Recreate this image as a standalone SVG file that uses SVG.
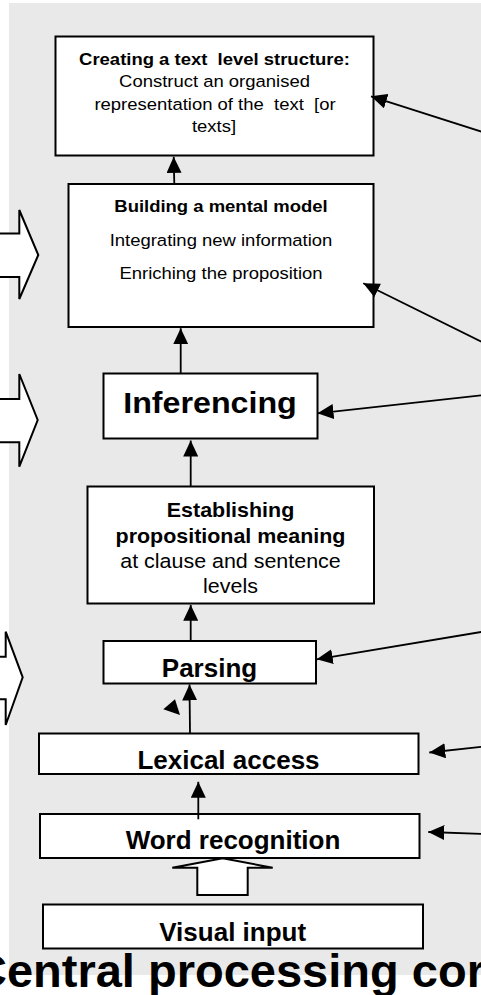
<svg xmlns="http://www.w3.org/2000/svg" width="481" height="995" viewBox="0 0 481 995">
  <style>
    text { font-family: "Liberation Sans", Arial, Helvetica, sans-serif; fill: #000; text-anchor: middle; white-space: pre; }
    .b { font-weight: bold; }
    .box { fill: #fff; stroke: #000; stroke-width: 2; }
    .link { fill: none; stroke: #000; stroke-width: 1.8; marker-end: url(#head); }
    .block { fill: #fff; stroke: #000; stroke-width: 2; stroke-linejoin: miter; }
  </style>
  <defs>
    <marker id="head" viewBox="0 0 16 15" refX="16" refY="7.5" markerWidth="16" markerHeight="15" markerUnits="userSpaceOnUse" orient="auto">
      <path d="M0,0 L16,7.5 L0,15 z" fill="#000"/>
    </marker>
  </defs>

  <!-- panel background -->
  <rect x="9" y="3" width="472" height="972" fill="#e9e9e9"/>

  <!-- incoming block arrows on the left -->
  <g id="in-left">
    <polygon class="block" points="-3,233.5 19.3,233.5 19.3,210 38.3,255 19.3,299 19.3,277 -3,277"/>
    <polygon class="block" points="-3,399 19.3,399 19.3,374 37.7,420 19.3,466.7 19.3,442.3 -3,442.3"/>
    <polygon class="block" points="-3,656.7 5.7,656.7 5.7,631.7 22.7,677.3 5.7,725 5.7,699.3 -3,699.3"/>
  </g>

  <g id="text-structure">
    <rect class="box" x="55.5" y="36.5" width="318" height="119"/>
    <text class="b" font-size="16.8" transform="translate(214.5 64.5) scale(1.1 1)">Creating a text  level structure:</text>
    <text font-size="16.8" transform="translate(214.5 87) scale(1.1 1)">Construct an organised</text>
    <text font-size="16.8" transform="translate(215 109.5) scale(1.1 1)">representation of the  text  [or</text>
    <text font-size="16.8" transform="translate(214 132) scale(1.1 1)">texts]</text>
  </g>

  <g id="mental-model">
    <rect class="box" x="68.5" y="184" width="305" height="143"/>
    <text class="b" font-size="16.8" transform="translate(221 211.5) scale(1.1 1)">Building a mental model</text>
    <text font-size="16.8" transform="translate(221 245.5) scale(1.1 1)">Integrating new information</text>
    <text font-size="16.8" transform="translate(221 278.5) scale(1.1 1)">Enriching the proposition</text>
  </g>

  <g id="inferencing">
    <rect class="box" x="103.5" y="373.5" width="214" height="65"/>
    <text class="b" font-size="29.3" transform="translate(210 413.3) scale(1.1 1)">Inferencing</text>
  </g>

  <g id="propositional-meaning">
    <rect class="box" x="87.5" y="486.5" width="286.5" height="117"/>
    <text class="b" font-size="19.5" transform="translate(230.5 517.3) scale(1.1 1)">Establishing</text>
    <text class="b" font-size="19.5" transform="translate(230.5 543.3) scale(1.1 1)">propositional meaning</text>
    <text font-size="19.5" transform="translate(230.5 568.3) scale(1.1 1)">at clause and sentence</text>
    <text font-size="19.5" transform="translate(230.5 593.3) scale(1.1 1)">levels</text>
  </g>

  <g id="parsing">
    <rect class="box" x="103.5" y="641" width="212.5" height="42.5"/>
    <text class="b" font-size="26" x="209.5" y="676.7">Parsing</text>
  </g>

  <g id="lexical-access">
    <rect class="box" x="39" y="733.5" width="379.5" height="40.5"/>
    <text class="b" font-size="26" x="228.5" y="769.3">Lexical access</text>
  </g>

  <g id="word-recognition">
    <rect class="box" x="40" y="814" width="379.5" height="44"/>
    <text class="b" font-size="26" x="233" y="849.3">Word recognition</text>
  </g>

  <g id="visual-input">
    <rect class="box" x="43" y="904.5" width="380" height="44"/>
    <text class="b" font-size="26" x="232.7" y="940.7">Visual input</text>
  </g>

  <!-- connectors -->
  <g id="connectors">
    <line class="link" x1="174.3" y1="184" x2="173.7" y2="156.8"/>
    <line class="link" x1="180.7" y1="373.5" x2="180.7" y2="328.2"/>
    <line class="link" x1="190.7" y1="486.5" x2="190.7" y2="440.5"/>
    <line class="link" x1="190.7" y1="641" x2="190.7" y2="604.8"/>
    <line class="link" x1="190" y1="733.5" x2="189.5" y2="684.5"/>
    <line class="link" x1="198.3" y1="819.3" x2="198.3" y2="781.8"/>
    <!-- loose arrowhead beside the parsing link -->
    <polygon points="175,699.3 163.3,709.3 180,715" fill="#000"/>
    <!-- visual input feeding word recognition -->
    <polygon class="block" points="197.3,895 247.7,895 247.7,867.7 272.7,867.7 222.7,858.3 172.3,867.7 197.3,867.7"/>
    <!-- links arriving from the right -->
    <line class="link" x1="490" y1="134.4" x2="371" y2="96.3"/>
    <line class="link" x1="490" y1="346" x2="363.3" y2="283.3"/>
    <line class="link" x1="490" y1="394.3" x2="317.5" y2="413.3"/>
    <line class="link" x1="490" y1="630.5" x2="316.7" y2="659.3"/>
    <line class="link" x1="490" y1="746" x2="429.3" y2="752.5"/>
    <line class="link" x1="490" y1="834.1" x2="428.3" y2="832"/>
  </g>

  <text class="b" font-size="47" x="-27" y="987.3" style="text-anchor:start">Central processing core</text>
</svg>
